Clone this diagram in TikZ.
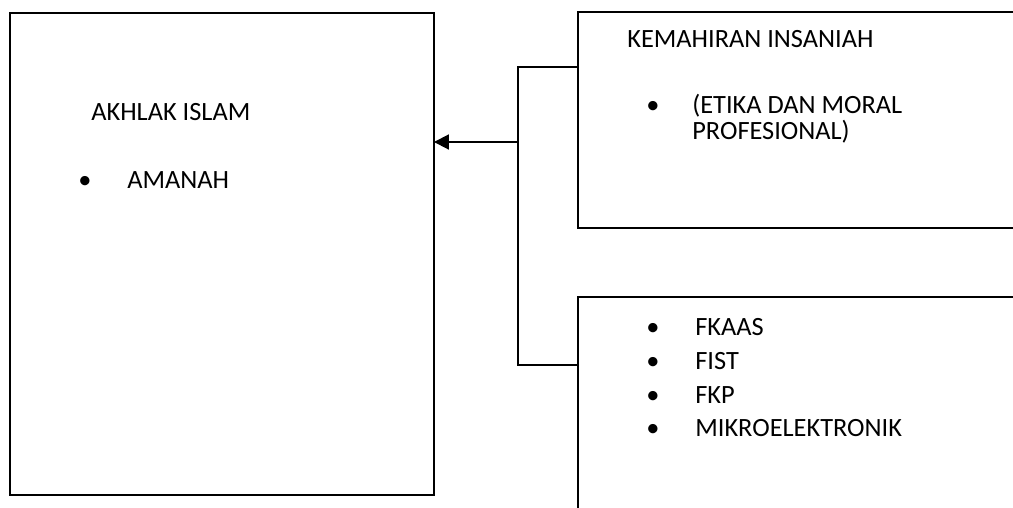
\documentclass[tikz,border=0pt]{standalone}
\usepackage{fontspec}
\setmainfont{Carlito}
\usetikzlibrary{positioning,arrows.meta,calc}

\begin{document}
\begin{tikzpicture}[
    x=0.02cm, y=-0.02cm,
    panel/.style={rectangle, draw, line width=1.1pt, inner sep=0pt, outer sep=0pt},
    txt/.style={anchor=base west, inner sep=0pt, font=\fontsize{15pt}{18pt}\selectfont},
    dot/.style={anchor=base, inner sep=0pt, font=\fontsize{15pt}{18pt}\selectfont},
    link/.style={line width=1.1pt}
]
    \useasboundingbox (0,0) rectangle (1013,507);
    \clip (0,0) rectangle (1013,507);

    % boxes
    \node[panel, minimum width=8.48cm, minimum height=9.66cm] (akhlak) at (222,254) {};
    \node[panel, minimum width=9.24cm, minimum height=4.32cm] (insaniah) at (809,120) {};
    \node[panel, minimum width=9.24cm, minimum height=4.66cm] (fakulti) at (809,413.5) {};

    % left box text
    \node[txt] (akhlakT) at (91,120) {AKHLAK ISLAM};
    \node[dot] (b1) at (85,188) {•};
    \node[txt] (amanah) at (127,188) {AMANAH};

    % top right box text
    \node[txt] (insaniahT) at (627,47) {KEMAHIRAN INSANIAH};
    \node[dot] (b2) at (653,113) {•};
    \node[txt] (etika) at (692,113) {(ETIKA DAN MORAL};
    \node[txt] (prof) at (692,139) {PROFESIONAL)};

    % bottom right box text
    \node[dot] (b3) at (653,335) {•};
    \node[txt] (fkaas) at (695,335) {FKAAS};
    \node[dot] (b4) at (653,369) {•};
    \node[txt] (fist) at (695,369) {FIST};
    \node[dot] (b5) at (653,403) {•};
    \node[txt] (fkp) at (695,403) {FKP};
    \node[dot] (b6) at (653,436) {•};
    \node[txt] (mikro) at (695,436) {MIKROELEKTRONIK};

    % connectors
    \coordinate (bus) at (518,142);
    \draw[link] (insaniah.west |- 0,67) -| (bus) |- (fakulti.west |- 0,365);
    \draw[link, -{Triangle[length=8.5pt, width=8.5pt]}] (bus) -- (bus -| akhlak.east);
\end{tikzpicture}
\end{document}
